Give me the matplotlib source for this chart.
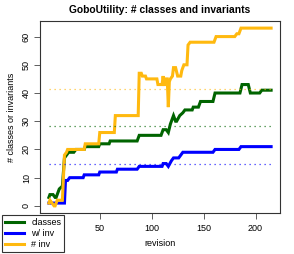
import matplotlib
matplotlib.use("Agg")
import matplotlib.pyplot as plt
import numpy as np

plt.rcParams['font.family'] = ['Liberation Sans', 'DejaVu Sans']

# values (revision, count) at the change points
classes_rev = [1, 2, 5, 7, 8, 11, 14, 16, 18, 20, 25, 27, 35, 36, 49, 50, 59, 60, 86, 88,
               109, 111, 114, 116, 118, 121, 123, 124, 127, 130, 132, 139, 140, 145, 147,
               159, 161, 185, 187, 193, 195, 204, 206, 215]
classes_val = [3, 4, 4, 3, 3, 6, 7, 17, 18, 19, 19, 20, 20, 21, 21, 22, 22, 23, 23, 25,
               25, 27, 27, 26, 29, 32, 30, 30, 32, 33, 34, 34, 35, 35, 37,
               37, 40, 40, 43, 43, 40, 40, 41, 41]

inv_cls_rev = [1, 16, 17, 19, 21, 34, 35, 49, 50, 66, 67, 86, 88, 110, 111, 114, 116,
               119, 121, 126, 128, 130, 159, 161, 184, 186, 215]
inv_cls_val = [1, 1, 9, 9, 10, 10, 11, 11, 12, 12, 13, 13, 14, 14, 15, 15, 14,
               16, 17, 17, 18, 19, 19, 20, 20, 21, 21]

inv_rev = [1, 2, 4, 6, 7, 9, 14, 16, 18, 19, 35, 36, 49, 50, 64, 65, 87, 88, 90, 91, 94, 95,
           105, 106, 110, 111, 112, 113, 114, 115, 116, 117, 118, 120, 121, 123, 125, 128,
           129, 130, 131, 134, 135, 137, 160, 162, 180, 182, 184, 186, 215]
inv_val = [1, 2, 1, 0, 0, 2, 2, 18, 19, 20, 20, 22, 22, 26, 26, 32, 32, 47, 47, 46, 46, 45,
           45, 43, 43, 46, 43, 43, 45, 45, 35, 44, 45, 46, 49, 49, 46, 46,
           48, 49, 50, 50, 57, 58, 58, 60, 60, 61, 61, 63, 63]

# mean levels (dotted)
mean_classes = 28.2
mean_inv_cls = 14.7
mean_inv = 41.3
n_rev = 215

names = ["classes", "w/ inv", "# inv"]
colors = ["#006400", "#0000FF", "#FFB90F"]

fig = plt.figure(figsize=(2.94, 2.54), dpi=100)
ax = fig.add_axes([40/294, 1-213/254, 240/294, 192/254])

l1, = ax.plot(classes_rev, classes_val, color=colors[0], lw=2.2, solid_joinstyle='miter')
l2, = ax.plot(inv_cls_rev, inv_cls_val, color=colors[1], lw=2.2, solid_joinstyle='miter')
l3, = ax.plot(inv_rev, inv_val, color=colors[2], lw=2.2, solid_joinstyle='miter')

for m, c in zip([mean_classes, mean_inv_cls, mean_inv], colors):
    ax.plot([1, n_rev], [m, m], color=c, lw=0.9, ls=(0, (1, 3)), alpha=0.8)

ax.set_xlim(1 - 0.04*(n_rev-1), n_rev + 0.04*(n_rev-1))
ax.set_ylim(-0.04*63, 63*1.04)
ax.set_xticks([50, 100, 150, 200])
ax.set_yticks([0, 10, 20, 30, 40, 50, 60])
ax.tick_params(axis='both', labelsize=6.5, length=4, width=0.6, colors='#444444', labelcolor='black')
ax.tick_params(axis='y', pad=2.5)
ax.tick_params(axis='x', pad=4)
for lab in ax.get_yticklabels():
    lab.set_rotation(90)
    lab.set_va('center')
for s in ax.spines.values():
    s.set_linewidth(0.8)
    s.set_color('#333333')

ax.set_title("GoboUtility: # classes and invariants", fontsize=7.4, fontweight='bold', pad=6)
ax.set_xlabel("revision", fontsize=6.5, labelpad=4)
ax.set_ylabel("# classes or invariants", fontsize=6.5, labelpad=4)

leg = fig.legend(handles=[l1, l2, l3], labels=names, loc='lower left',
                 bbox_to_anchor=(2/294, 2/254), fontsize=6.5, fancybox=False,
                 framealpha=1, edgecolor='#333333', handlelength=2.1, handletextpad=0.8,
                 labelspacing=0.2, borderpad=0.35, borderaxespad=0)
leg.get_frame().set_linewidth(0.8)
leg.set_zorder(10)

fig.savefig("out.png", dpi=100)
